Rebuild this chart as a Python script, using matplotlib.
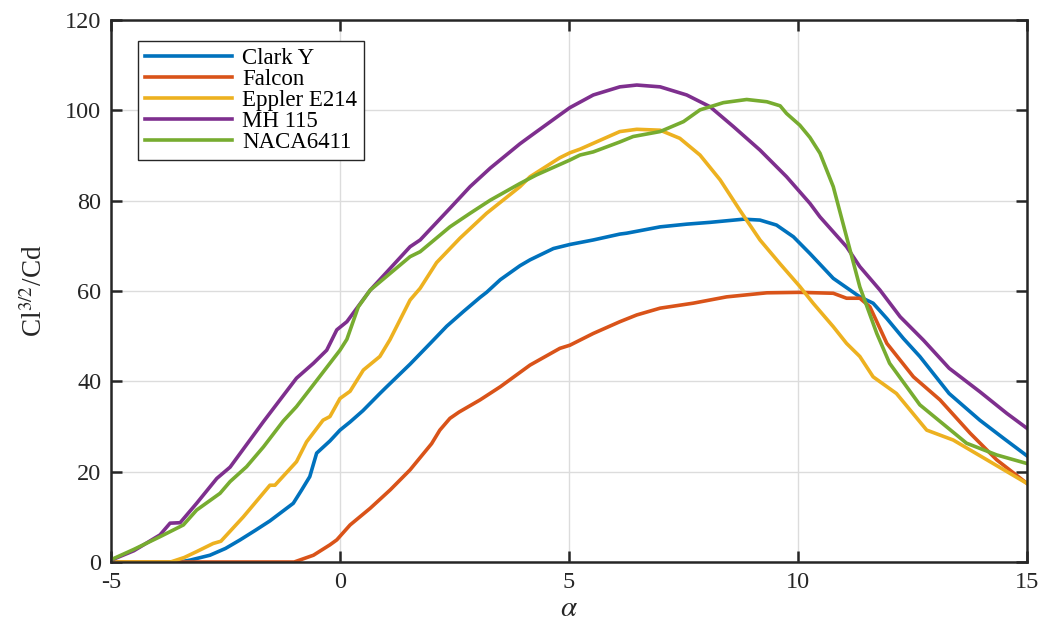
import matplotlib
matplotlib.use("Agg")
import matplotlib.pyplot as plt

# ---- data ----
clark_x = [-5, -3.5, -3.28, -2.84, -2.5, -2.18, -1.85, -1.53, -1.02, -0.84, -0.66, -0.51, -0.22, 0, 0.22, 0.5, 0.87,
           1.0, 1.53, 1.97, 2.33, 2.7, 3.06, 3.2, 3.5, 3.93, 4.15, 4.66, 5.02, 5.53, 6.11, 6.26, 6.99, 7.57, 8.08,
           8.81, 9.17, 9.53, 9.9, 10.26, 10.77, 11.35, 11.64, 11.94, 12.3, 12.66, 13.3, 13.97, 14.5, 15]
clark_y = [0, 0, 0.4, 1.5, 3, 4.9, 7, 9.1, 13, 15.9, 18.9, 24.1, 26.8, 29.2, 31, 33.5, 37.3,
           38.6, 43.8, 48.4, 52.2, 55.5, 58.6, 59.7, 62.5, 65.6, 66.9, 69.4, 70.3, 71.3, 72.6, 72.8, 74.2, 74.8, 75.2,
           75.9, 75.7, 74.6, 72, 68.3, 62.8, 58.7, 57.3, 53.9, 49.5, 45.5, 37.3, 31.4, 27.3, 23.5]

falcon_x = [-5, -1.0, -0.58, -0.22, -0.07, 0.22, 0.66, 1.1, 1.53, 2.0, 2.18, 2.4, 2.6, 3.06, 3.5, 4.15, 4.8, 5.02,
            5.53, 6.11, 6.48, 6.99, 7.71, 8.44, 9.32, 10.04, 10.77, 11.06, 11.35, 11.57, 11.94, 12.52, 13.1, 13.76,
            14.34, 15]
falcon_y = [0, 0, 1.5, 3.8, 4.9, 8.2, 11.9, 16, 20.4, 26.2, 29.2, 31.8, 33.2, 35.9, 38.8, 43.6, 47.3, 48,
            50.6, 53.2, 54.7, 56.2, 57.3, 58.7, 59.6, 59.7, 59.5, 58.4, 58.4, 56.5, 48.4, 41, 35.9, 28.5,
            22.6, 17.4]

eppler_x = [-5, -3.7, -3.4, -3.13, -2.77, -2.6, -2.11, -1.53, -1.42, -0.95, -0.73, -0.37, -0.22, 0, 0.22, 0.51,
            0.87, 1.09, 1.53, 1.75, 2.11, 2.62, 3.2, 3.93, 4.15, 4.8, 5.02, 5.24, 5.53, 6.11, 6.48, 6.99, 7.42,
            7.86, 8.3, 8.73, 9.17, 9.61, 10.04, 10.33, 10.77, 11.06, 11.35, 11.64, 12.15, 12.81, 13.39, 15]
eppler_y = [0, 0, 1, 2.3, 4.1, 4.6, 10, 17, 17, 22.2, 26.6, 31.4, 32.2, 36.2, 37.8, 42.5,
            45.5, 49.2, 58, 60.6, 66.3, 71.7, 77.2, 83.1, 85.3, 89.5, 90.6, 91.4, 92.7, 95.3, 95.8, 95.6, 93.8,
            90.1, 84.6, 77.9, 71.3, 66, 61, 57.3, 52.1, 48.4, 45.5, 41, 37.3, 29.2, 27, 17.4]

mh_x = [-5, -4.5, -3.93, -3.71, -3.49, -3.13, -2.69, -2.4, -1.67, -0.95, -0.58, -0.29, -0.07, 0.15, 0.66,
        1.53, 1.75, 2.4, 2.84, 3.28, 3.93, 4.2, 4.8, 5.02, 5.53, 6.11, 6.48, 6.99, 7.57, 8.08, 8.59, 9.17, 9.75,
        10.26, 10.48, 11.06, 11.35, 11.79, 12.23, 12.74, 13.3, 13.97, 14.56, 15]
mh_y = [0.4, 2.5, 6, 8.6, 8.7, 13, 18.5, 21, 31.1, 40.7, 44, 46.9, 51.4, 53.2, 60.2,
        69.8, 71.3, 78.3, 83.1, 87.2, 92.6, 94.6, 99, 100.6, 103.4, 105.2, 105.6, 105.2, 103.4, 100.8, 96.4, 91.2, 85.3,
        79.4, 76.4, 69.8, 65.4, 60.2, 54.3, 49.1, 42.9, 37.7, 32.9, 29.6]

naca_x = [-5, -4.5, -3.93, -3.42, -3.13, -2.62, -2.4, -2.04, -1.67, -1.24, -0.95, -0.66, -0.22, 0, 0.15, 0.4,
          0.66, 1.53, 1.75, 2.4, 2.84, 3.28, 3.93, 4.29, 5.02, 5.24, 5.53, 6.11, 6.4, 6.99, 7.5, 7.86, 8.37, 8.88,
          9.32, 9.61, 9.75, 10.04, 10.26, 10.48, 10.77, 11.06, 11.35, 11.72, 12.0, 12.66, 13.68, 14.34, 15]
naca_y = [0.5, 2.8, 5.6, 8.2, 11.5, 15.2, 17.8, 21.1, 25.5, 31.2, 34.4, 38.2, 44, 46.9, 49.3, 56.5,
          60.2, 67.6, 68.7, 74.2, 77.2, 80.1, 83.8, 85.7, 89, 90.1, 90.8, 93, 94.2, 95.3, 97.5, 100.1, 101.7, 102.4,
          101.9, 101, 99.3, 96.7, 94, 90.5, 83.1, 72, 60.9, 50.6, 44, 34.8, 26.3, 23.7, 21.8]

labels = ["Clark Y", "Falcon", "Eppler E214", "MH 115", "NACA6411"]
colors = ["#0072BD", "#D95319", "#EDB120", "#7E2F8E", "#77AC30"]
xticks = [-5, 0, 5, 10, 15]
yticks = [0, 20, 40, 60, 80, 100, 120]

plt.rcParams["font.family"] = ["Liberation Serif", "DejaVu Serif"]
plt.rcParams["mathtext.fontset"] = "stix"

fig = plt.figure(figsize=(10.43, 6.24), dpi=100)
ax = fig.add_axes([111 / 1043, 62 / 624, 916 / 1043, 542 / 624])

series = [(clark_x, clark_y), (falcon_x, falcon_y), (eppler_x, eppler_y), (mh_x, mh_y), (naca_x, naca_y)]
for (xs, ys), lab, c in zip(series, labels, colors):
    ax.plot(xs, ys, color=c, lw=2.6, label=lab, solid_joinstyle="round")

ax.set_xlim(-5, 15)
ax.set_ylim(0, 120)
ax.set_xticks(xticks)
ax.set_yticks(yticks)
ax.set_xticklabels([str(t) for t in xticks])
ax.set_yticklabels([str(t) for t in yticks])
ax.grid(True, color="#dcdcdc", lw=1.0)
ax.set_axisbelow(True)
for s in ax.spines.values():
    s.set_color("#262626")
    s.set_linewidth(1.8)
ax.tick_params(direction="in", length=8, width=1.8, color="#262626", labelsize=17.5,
               labelcolor="#262626", top=True, right=True, pad=7)

ax.set_xlabel(r"$\alpha$", fontsize=21, labelpad=2, color="#262626")
ax.set_ylabel(r"Cl$^{\mathrm{3/2}}$/Cd", fontsize=19.5, labelpad=12, color="#262626")

leg = ax.legend(loc="upper left", bbox_to_anchor=(27 / 916, 1 - 21 / 542), fontsize=16.5,
                frameon=True, fancybox=False, edgecolor="#262626", framealpha=1,
                handlelength=3.8, handletextpad=0.45, labelspacing=0.0, borderpad=0.3,
                borderaxespad=0)
leg.get_frame().set_linewidth(1.0)

fig.savefig("out.png", dpi=100)
